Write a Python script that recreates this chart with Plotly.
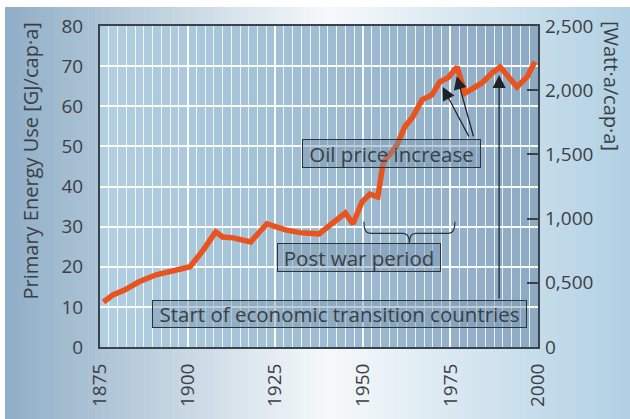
import plotly.graph_objects as go

# ---------------- data ----------------
years = [1876, 1878.7, 1882, 1886, 1891, 1896, 1900.7, 1904.5, 1908, 1910, 1913, 1918,
         1922.6, 1928, 1932, 1937.5, 1945, 1947.2, 1949.8, 1952, 1954.3, 1955.8, 1957.8,
         1959.8, 1962, 1964.3, 1966.9, 1969.7, 1972, 1974.3, 1976.9, 1979.2, 1984, 1986.9,
         1989.2, 1994, 1996.9, 1999.1]
energy_gj = [11.2, 13.0, 14.2, 16.2, 18.0, 19.0, 20.0, 24.2, 28.7, 27.4, 27.2, 26.2,
             30.7, 29.2, 28.5, 28.2, 33.4, 30.7, 36.2, 38.1, 37.4, 45.9, 47.9,
             50.4, 54.9, 57.4, 61.6, 62.8, 66.1, 67.1, 69.8, 63.3, 65.8, 68.3,
             69.8, 64.8, 67.3, 71.1]

x_ticks = [1875, 1900, 1925, 1950, 1975, 2000]
y_ticks = [0, 10, 20, 30, 40, 50, 60, 70, 80]
watt_ticks = [0, 500, 1000, 1500, 2000, 2500]
watt_labels = ["0", "0,500", "1,000", "1,500", "2,000", "2,500"]

FONT = "Open Sans"
TXT = "#3b3f44"
AX = "#3a434c"
TICK_SIZE = 19
ANN_SIZE = 20.5


def lerp(c1, c2, t):
    return "rgb(%d,%d,%d)" % tuple(round(a + (b - a) * t) for a, b in zip(c1, c2))


shapes = []

# figure background gradient (left blue -> white -> right light blue)
W, H = 630, 419
L, R, T, B = 100, 92, 26, 72
pw, ph = W - L - R, H - T - B
n = 90
x_start, x_end = 5, W
c_left, c_mid, c_right = (143, 174, 199), (246, 249, 251), (176, 208, 227)
mid_px = 330
for i in range(n):
    a = x_start + (x_end - x_start) * i / n
    b = x_start + (x_end - x_start) * (i + 1) / n + 0.6
    c = (a + b) / 2
    if c < mid_px:
        col = lerp(c_left, c_mid, (c - x_start) / (mid_px - x_start))
    else:
        col = lerp(c_mid, c_right, (c - mid_px) / (x_end - mid_px))
    shapes.append(dict(type="rect", xref="paper", yref="paper",
                       x0=(a - L) / pw, x1=(b - L) / pw,
                       y0=(T + ph - H) / ph, y1=(T + ph - 7) / ph,
                       fillcolor=col, line=dict(width=0), layer="below"))

# plot area gradient
p_left, p_right = (178, 208, 225), (141, 170, 195)
cols = 50
for i in range(cols):
    y0 = 1875 + 2.5 * i
    t = (i + 0.5) / cols
    shapes.append(dict(type="rect", xref="x", yref="y domain",
                       x0=y0, x1=y0 + 2.5, y0=0, y1=1,
                       fillcolor=lerp(p_left, p_right, t), line=dict(width=0), layer="below"))

# brace for post war period
bx0, bx1, bxm = 1950.3, 1976.3, 1963.3
by_top, by_mid, by_tip = 31.2, 28.3, 25.9
path = (f"M {bx0},{by_top} Q {bx0},{by_mid} {bx0+1.8},{by_mid} "
        f"L {bxm-1.8},{by_mid} Q {bxm},{by_mid} {bxm},{by_tip} "
        f"Q {bxm},{by_mid} {bxm+1.8},{by_mid} L {bx1-1.8},{by_mid} "
        f"Q {bx1},{by_mid} {bx1},{by_top}")
shapes.append(dict(type="path", xref="x", yref="y", path=path,
                   line=dict(color="#2e3338", width=1.2)))

fig = go.Figure()
fig.add_trace(go.Scatter(x=years, y=energy_gj, mode="lines",
                         line=dict(color="#e8531e", width=5.5),
                         hoverinfo="skip", showlegend=False))
# empty trace so the right-hand axis is drawn
fig.add_trace(go.Scatter(x=[None], y=[None], yaxis="y2", mode="lines",
                         hoverinfo="skip", showlegend=False))

box_bg = "rgba(118,148,174,0.45)"
annotations = [
    dict(x=1958.3, y=48.25, xref="x", yref="y", text="Oil price increase", showarrow=False,
         font=dict(family=FONT, size=ANN_SIZE, color=TXT), bgcolor=box_bg, bordercolor="#2e3338",
         borderwidth=1, borderpad=0, width=177, height=27),
    dict(x=1948.9, y=22.3, xref="x", yref="y", text="Post war period", showarrow=False,
         font=dict(family=FONT, size=ANN_SIZE, color=TXT), bgcolor=box_bg, bordercolor="#2e3338",
         borderwidth=1, borderpad=0, width=162, height=27),
    dict(x=1943.35, y=8.2, xref="x", yref="y", text="Start of economic transition countries",
         showarrow=False, font=dict(family=FONT, size=ANN_SIZE, color=TXT), bgcolor=box_bg,
         bordercolor="#2e3338", borderwidth=1, borderpad=0, width=373, height=26),
]
arrows = [((1972.8, 64.8), (1980.5, 52.1)),
          ((1976.8, 67.5), (1981.7, 52.1)),
          ((1988.9, 67.8), (1988.9, 11.7))]
for (tx, ty), (sx, sy) in arrows:
    annotations.append(dict(x=tx, y=ty, ax=sx, ay=sy, xref="x", yref="y", axref="x", ayref="y",
                            text="", showarrow=True, arrowhead=2, arrowsize=2.0,
                            arrowwidth=1.3, arrowcolor="#1e2225", standoff=0))
# axis titles
annotations.append(dict(x=(30 - L) / pw, y=(T + ph - 161.5) / ph, xref="paper", yref="paper",
                        xanchor="center", yanchor="middle",
                        text="Primary Energy Use [GJ/cap·a]", textangle=-90, showarrow=False,
                        font=dict(family=FONT, size=20, color=TXT)))
annotations.append(dict(x=(612 - L) / pw, y=(T + ph - 86) / ph, xref="paper", yref="paper",
                        xanchor="center", yanchor="middle",
                        text="[Watt·a/cap·a]", textangle=90, showarrow=False,
                        font=dict(family=FONT, size=20, color=TXT)))

fig.update_layout(
    width=W, height=H,
    margin=dict(l=L, r=R, t=T, b=B, autoexpand=False),
    paper_bgcolor="white",
    plot_bgcolor="rgba(0,0,0,0)",
    font=dict(family=FONT, size=TICK_SIZE, color=TXT),
    shapes=shapes,
    annotations=annotations,
    xaxis=dict(range=[1875, 2000], tickvals=x_ticks, tickangle=-90, ticks="",
               showgrid=True, gridcolor="rgba(255,255,255,0.9)", gridwidth=1.5,
               minor=dict(dtick=2.5, showgrid=True, gridcolor="rgba(255,255,255,0.8)", gridwidth=1.3),
               showline=True, linecolor=AX, linewidth=2, mirror=True, automargin=False,
               ticklabelstandoff=7, zeroline=False, tickfont=dict(size=TICK_SIZE)),
    yaxis=dict(range=[0, 80], tickvals=y_ticks, ticks="", automargin=False,
               showgrid=True, gridcolor="rgba(255,255,255,0.95)", gridwidth=2,
               showline=True, linecolor=AX, linewidth=2, mirror=True,
               ticklabelstandoff=11, zeroline=False, tickfont=dict(size=TICK_SIZE)),
    yaxis2=dict(range=[0, 2500], tickvals=watt_ticks, ticktext=watt_labels, automargin=False,
                overlaying="y", side="right", ticks="inside", ticklen=11, tickwidth=1.5,
                tickcolor=AX, showgrid=False, zeroline=False, showline=False,
                ticklabelstandoff=6, tickfont=dict(size=TICK_SIZE)),
)

fig.write_html("out.html", config={"displayModeBar": False},
               post_script="document.body.style.margin='0';document.body.style.overflow='hidden';")
